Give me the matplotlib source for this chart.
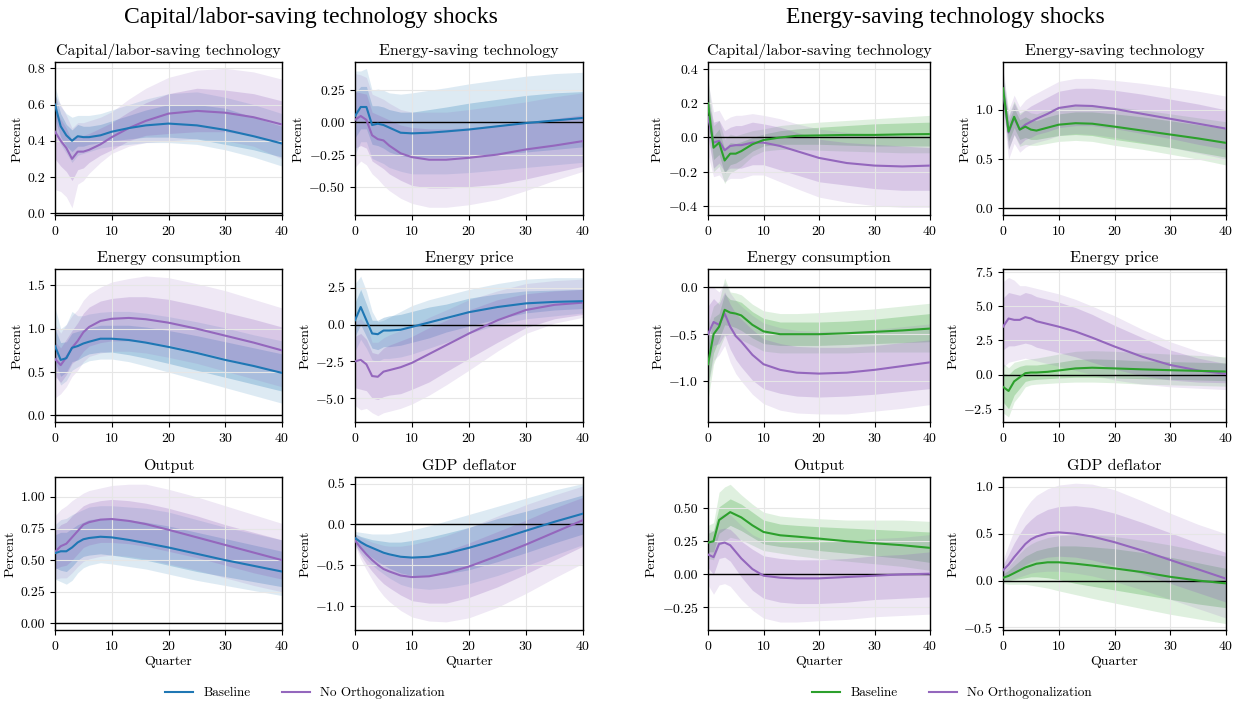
import matplotlib
matplotlib.use("Agg")
import matplotlib.pyplot as plt
from matplotlib.lines import Line2D

plt.rcParams['font.family'] = ['cmr10', 'DejaVu Serif']
plt.rcParams['mathtext.fontset'] = 'cm'
plt.rcParams['axes.formatter.use_mathtext'] = True
plt.rcParams['axes.unicode_minus'] = True

quarters = [0, 1, 2, 3, 4, 5, 6, 8, 10, 13, 16, 20, 25, 30, 35, 40]

# ---- Capital/labor-saving technology shocks (left block) ----
L1_base = dict(
    med=[.60, .48, .43, .40, .425, .42, .42, .43, .45, .47, .485, .495, .485, .46, .425, .385],
    lo68=[.52, .42, .37, .34, .37, .37, .38, .39, .40, .41, .42, .42, .41, .38, .35, .31],
    hi68=[.66, .55, .49, .46, .49, .48, .48, .49, .51, .54, .57, .60, .60, .58, .53, .48],
    lo90=[.45, .38, .33, .28, .32, .33, .34, .36, .37, .38, .39, .39, .38, .35, .31, .26],
    hi90=[.70, .59, .55, .53, .54, .54, .54, .55, .57, .60, .63, .66, .67, .64, .60, .55])
L1_noorth = dict(
    med=[.45, .40, .36, .30, .34, .34, .35, .38, .42, .47, .51, .55, .565, .555, .53, .49],
    lo68=[.30, .26, .23, .18, .24, .25, .28, .32, .35, .40, .43, .44, .45, .45, .43, .38],
    hi68=[.57, .52, .47, .40, .43, .43, .44, .47, .50, .56, .61, .66, .69, .68, .66, .62],
    lo90=[.13, .12, .09, .03, .16, .18, .22, .28, .33, .37, .39, .40, .41, .40, .37, .30],
    hi90=[.65, .60, .54, .47, .50, .50, .51, .53, .56, .63, .69, .75, .79, .80, .78, .74])

L2_base = dict(
    med=[.05, .12, .12, -.02, -.01, -.02, -.04, -.08, -.085, -.08, -.07, -.055, -.03, -.005, .015, .035],
    lo68=[-.12, -.05, -.05, -.17, -.18, -.20, -.23, -.26, -.27, -.27, -.27, -.26, -.25, -.23, -.21, -.19],
    hi68=[.23, .28, .28, .13, .13, .12, .10, .08, .08, .10, .12, .15, .18, .21, .23, .24],
    lo90=[-.25, -.15, -.15, -.28, -.30, -.32, -.35, -.38, -.40, -.40, -.40, -.39, -.37, -.35, -.33, -.31],
    hi90=[.40, .40, .42, .25, .26, .25, .23, .22, .23, .25, .27, .30, .33, .36, .38, .39])
L2_noorth = dict(
    med=[.02, .05, .02, -.10, -.13, -.14, -.18, -.24, -.27, -.29, -.29, -.275, -.25, -.21, -.18, -.145],
    lo68=[-.20, -.18, -.20, -.30, -.33, -.36, -.40, -.45, -.49, -.51, -.51, -.50, -.48, -.44, -.39, -.34],
    hi68=[.24, .23, .22, .08, .06, .04, .02, -.02, -.04, -.05, -.05, -.04, -.02, .00, .03, .06],
    lo90=[-.35, -.30, -.33, -.40, -.44, -.49, -.53, -.59, -.63, -.66, -.66, -.64, -.60, -.53, -.45, -.38],
    hi90=[.38, .37, .35, .22, .20, .18, .15, .10, .08, .08, .08, .10, .13, .16, .20, .23])

L3_base = dict(
    med=[.80, .64, .66, .78, .80, .83, .85, .885, .885, .87, .84, .79, .72, .64, .57, .49],
    lo68=[.62, .45, .50, .62, .64, .68, .71, .73, .73, .70, .66, .60, .52, .44, .36, .28],
    hi68=[1.00, .84, .85, .95, .97, .99, 1.01, 1.04, 1.04, 1.04, 1.02, .98, .92, .85, .78, .71],
    lo90=[.50, .35, .40, .52, .56, .60, .63, .65, .65, .62, .57, .50, .41, .32, .23, .14],
    hi90=[1.25, 1.00, 1.05, 1.20, 1.15, 1.15, 1.17, 1.19, 1.20, 1.20, 1.18, 1.14, 1.08, 1.01, .93, .86])
L3_noorth = dict(
    med=[.65, .58, .67, .78, .86, .96, 1.02, 1.09, 1.115, 1.125, 1.11, 1.07, 1.00, .92, .84, .75],
    lo68=[.45, .38, .47, .60, .65, .74, .80, .84, .86, .86, .85, .81, .74, .66, .58, .49],
    hi68=[.85, .78, .88, .98, 1.07, 1.18, 1.25, 1.32, 1.35, 1.37, 1.37, 1.34, 1.27, 1.19, 1.11, 1.02],
    lo90=[.20, .25, .33, .45, .52, .62, .68, .72, .74, .74, .72, .67, .60, .51, .42, .33],
    hi90=[1.05, .95, 1.05, 1.15, 1.22, 1.33, 1.40, 1.48, 1.54, 1.58, 1.61, 1.59, 1.52, 1.44, 1.34, 1.24])

L4_base = dict(
    med=[.3, 1.2, .3, -.6, -.65, -.4, -.4, -.35, -.15, .15, .45, .85, 1.2, 1.45, 1.55, 1.6],
    lo68=[-.8, 0., -.8, -1.6, -1.7, -1.5, -1.5, -1.4, -1.2, -.9, -.5, -.1, .4, .8, 1.0, 1.1],
    hi68=[1.5, 2.4, 1.4, .3, .3, .5, .6, .7, .9, 1.2, 1.4, 1.8, 2.1, 2.3, 2.35, 2.4],
    lo90=[-1.8, -1.0, -1.6, -2.4, -2.5, -2.3, -2.3, -2.2, -2.0, -1.6, -1.2, -.6, 0., .4, .6, .8],
    hi90=[2.8, 3.3, 2.3, .9, .2, .3, .5, .9, 1.3, 1.7, 2.0, 2.4, 2.8, 3.1, 3.2, 3.2])
L4_noorth = dict(
    med=[-2.5, -2.4, -2.7, -3.5, -3.55, -3.2, -3.1, -2.9, -2.6, -2.0, -1.4, -.6, .3, 1.0, 1.35, 1.5],
    lo68=[-4.3, -4.4, -4.5, -5.0, -5.1, -4.9, -4.8, -4.7, -4.4, -3.9, -3.2, -2.3, -1.2, -.2, .4, .7],
    hi68=[-.8, -.6, -1.0, -1.9, -2.0, -1.6, -1.4, -1.1, -.8, -.2, .3, 1.0, 1.7, 2.1, 2.3, 2.4],
    lo90=[-5.5, -5.8, -5.7, -6.0, -6.2, -6.0, -5.9, -5.7, -5.4, -4.8, -4.1, -3.1, -1.8, -.6, .1, .5],
    hi90=[.2, .4, 0., -1.2, -1.2, -.9, -.7, -.4, -.1, .5, 1.0, 1.7, 2.3, 2.8, 3.0, 3.1])

L5_base = dict(
    med=[.555, .57, .57, .60, .64, .665, .675, .685, .68, .66, .635, .60, .55, .50, .455, .41],
    lo68=[.44, .42, .41, .45, .50, .53, .54, .55, .54, .52, .50, .46, .41, .37, .33, .29],
    hi68=[.70, .72, .72, .75, .78, .80, .82, .83, .83, .82, .80, .77, .72, .67, .62, .57],
    lo90=[.35, .33, .31, .34, .40, .44, .46, .48, .47, .45, .43, .39, .34, .30, .26, .22],
    hi90=[.78, .82, .83, .86, .88, .90, .92, .93, .93, .92, .91, .88, .82, .76, .71, .66])
L5_noorth = dict(
    med=[.565, .61, .63, .68, .73, .78, .80, .82, .825, .81, .785, .74, .68, .62, .56, .50],
    lo68=[.43, .45, .46, .50, .55, .60, .62, .64, .64, .63, .61, .57, .52, .46, .40, .35],
    hi68=[.73, .78, .80, .85, .89, .93, .95, .97, .98, .97, .95, .91, .85, .78, .72, .66],
    lo90=[.35, .36, .36, .40, .45, .49, .51, .53, .54, .53, .51, .47, .42, .36, .30, .25],
    hi90=[.85, .90, .93, .97, 1.00, 1.03, 1.05, 1.07, 1.09, 1.10, 1.10, 1.06, 1.00, .93, .86, .79])

L6_base = dict(
    med=[-.17, -.22, -.26, -.29, -.32, -.35, -.37, -.40, -.41, -.40, -.36, -.29, -.19, -.08, .03, .13],
    lo68=[-.22, -.30, -.36, -.41, -.46, -.50, -.54, -.60, -.63, -.63, -.61, -.56, -.46, -.35, -.23, -.12],
    hi68=[-.12, -.15, -.17, -.19, -.20, -.21, -.22, -.22, -.20, -.16, -.11, -.04, .07, .16, .26, .36],
    lo90=[-.25, -.35, -.43, -.50, -.56, -.61, -.66, -.74, -.78, -.80, -.78, -.73, -.63, -.51, -.38, -.25],
    hi90=[-.09, -.10, -.11, -.12, -.12, -.12, -.12, -.10, -.07, -.02, .04, .12, .22, .32, .42, .50])
L6_noorth = dict(
    med=[-.20, -.29, -.37, -.44, -.50, -.55, -.58, -.63, -.65, -.64, -.60, -.52, -.39, -.25, -.10, .05],
    lo68=[-.25, -.38, -.49, -.58, -.66, -.73, -.78, -.87, -.94, -.97, -.97, -.90, -.77, -.61, -.44, -.27],
    hi68=[-.15, -.20, -.25, -.29, -.33, -.36, -.38, -.41, -.41, -.38, -.33, -.23, -.09, .05, .20, .33],
    lo90=[-.27, -.43, -.56, -.68, -.79, -.88, -.95, -1.06, -1.14, -1.19, -1.20, -1.15, -1.02, -.85, -.66, -.48],
    hi90=[-.12, -.16, -.19, -.22, -.24, -.26, -.27, -.27, -.25, -.20, -.14, -.04, .10, .24, .36, .47])

# ---- Energy-saving technology shocks (right block) ----
R1_base = dict(
    med=[.20, -.06, -.03, -.135, -.095, -.095, -.08, -.04, -.015, 0., .01, .012, .015, .015, .018, .02],
    lo68=[.12, -.13, -.10, -.21, -.16, -.15, -.13, -.08, -.05, -.04, -.04, -.04, -.045, -.05, -.05, -.05],
    hi68=[.28, .01, .05, -.07, -.03, -.035, -.025, 0., .02, .04, .05, .06, .07, .08, .085, .09],
    lo90=[.05, -.20, -.17, -.27, -.21, -.19, -.17, -.11, -.08, -.07, -.07, -.075, -.08, -.085, -.09, -.09],
    hi90=[.35, .07, .10, -.01, .02, .01, .02, .04, .05, .07, .08, .09, .10, .11, .12, .13])
R1_noorth = dict(
    med=[.12, -.03, -.02, -.075, -.05, -.045, -.045, -.03, -.03, -.05, -.08, -.12, -.15, -.165, -.17, -.165],
    lo68=[0., -.18, -.15, -.20, -.18, -.18, -.18, -.16, -.16, -.19, -.22, -.26, -.28, -.30, -.31, -.31],
    hi68=[.22, .09, .10, .04, .06, .07, .07, .09, .08, .06, .03, -.01, -.03, -.04, -.05, -.06],
    lo90=[-.10, -.23, -.22, -.26, -.24, -.24, -.24, -.22, -.22, -.26, -.30, -.35, -.38, -.40, -.41, -.41],
    hi90=[.33, .15, .16, .10, .12, .13, .13, .14, .13, .11, .08, .05, .03, .02, .01, 0.])

R2_base = dict(
    med=[1.22, .78, .93, .80, .83, .80, .79, .82, .85, .865, .86, .83, .79, .75, .71, .665],
    lo68=[1.12, .68, .82, .70, .72, .70, .70, .72, .74, .75, .74, .70, .66, .62, .57, .52],
    hi68=[1.32, .88, 1.02, .90, .93, .90, .89, .93, .96, .98, .98, .96, .93, .89, .85, .81],
    lo90=[1.05, .60, .75, .63, .65, .64, .64, .66, .68, .69, .68, .64, .60, .55, .50, .44],
    hi90=[1.40, .95, 1.09, .97, 1.00, .97, .96, 1.00, 1.03, 1.05, 1.05, 1.03, 1.00, .96, .92, .88])
R2_noorth = dict(
    med=[1.20, .77, .92, .80, .85, .88, .91, .96, 1.02, 1.045, 1.04, 1.01, .96, .91, .86, .81],
    lo68=[1.05, .60, .75, .65, .70, .72, .75, .78, .82, .84, .84, .81, .76, .71, .65, .60],
    hi68=[1.32, .93, 1.07, .95, 1.00, 1.04, 1.07, 1.13, 1.19, 1.22, 1.22, 1.20, 1.16, 1.11, 1.06, 1.00],
    lo90=[.98, .50, .66, .57, .62, .65, .67, .70, .74, .76, .75, .72, .67, .62, .56, .50],
    hi90=[1.42, 1.00, 1.15, 1.03, 1.10, 1.14, 1.17, 1.23, 1.29, 1.32, 1.32, 1.30, 1.27, 1.23, 1.19, 1.14])

R3_base = dict(
    med=[-.82, -.50, -.42, -.24, -.27, -.28, -.30, -.40, -.47, -.50, -.50, -.50, -.49, -.475, -.46, -.44],
    lo68=[-1.05, -.70, -.55, -.40, -.41, -.43, -.46, -.54, -.60, -.62, -.62, -.62, -.61, -.60, -.59, -.58],
    hi68=[-.62, -.32, -.28, -.07, -.13, -.14, -.16, -.26, -.33, -.37, -.37, -.37, -.36, -.34, -.31, -.28],
    lo90=[-1.20, -.82, -.66, -.52, -.50, -.53, -.56, -.62, -.68, -.70, -.70, -.70, -.70, -.69, -.69, -.69],
    hi90=[-.40, -.20, -.15, .10, -.05, -.06, -.08, -.18, -.25, -.28, -.28, -.27, -.25, -.23, -.20, -.17])
R3_noorth = dict(
    med=[-.50, -.37, -.40, -.28, -.42, -.52, -.58, -.72, -.82, -.88, -.91, -.92, -.91, -.88, -.84, -.80],
    lo68=[-.85, -.62, -.60, -.50, -.66, -.77, -.85, -.99, -1.08, -1.13, -1.16, -1.17, -1.16, -1.14, -1.11, -1.08],
    hi68=[-.20, -.12, -.18, -.05, -.18, -.28, -.34, -.45, -.55, -.60, -.63, -.64, -.64, -.62, -.59, -.56],
    lo90=[-1.05, -.78, -.72, -.62, -.80, -.92, -1.00, -1.14, -1.24, -1.31, -1.34, -1.35, -1.35, -1.32, -1.29, -1.25],
    hi90=[0., 0., -.05, .05, -.06, -.14, -.20, -.30, -.38, -.43, -.46, -.47, -.47, -.45, -.42, -.39])

R4_base = dict(
    med=[-.9, -1.2, -.5, -.2, .1, .15, .15, .2, .3, .45, .5, .45, .38, .32, .27, .22],
    lo68=[-2.0, -2.5, -1.5, -1.0, -.5, -.4, -.35, -.3, -.25, -.2, -.2, -.25, -.3, -.35, -.4, -.45],
    hi68=[.1, 0., .4, .6, .7, .7, .7, .8, .9, 1.1, 1.15, 1.1, 1.0, .95, .9, .85],
    lo90=[-2.8, -3.1, -2.0, -1.5, -.9, -.75, -.7, -.65, -.6, -.55, -.55, -.6, -.7, -.75, -.8, -.85],
    hi90=[.8, .5, .9, 1.0, 1.1, 1.15, 1.2, 1.35, 1.5, 1.7, 1.75, 1.7, 1.6, 1.5, 1.4, 1.3])
R4_noorth = dict(
    med=[3.5, 4.1, 4.0, 4.0, 4.2, 4.1, 3.9, 3.7, 3.5, 3.15, 2.7, 2.05, 1.3, .7, .3, .05],
    lo68=[1.8, 2.1, 2.1, 2.2, 2.3, 2.2, 2.0, 1.8, 1.6, 1.3, .9, .4, -.1, -.4, -.55, -.6],
    hi68=[5.6, 6.0, 5.9, 5.8, 6.0, 5.9, 5.7, 5.5, 5.3, 4.9, 4.4, 3.6, 2.7, 1.8, 1.2, .8],
    lo90=[.5, .9, 1.0, 1.1, 1.2, 1.1, 1.0, .8, .6, .3, 0., -.4, -.7, -.9, -1.0, -1.1],
    hi90=[6.8, 7.1, 6.9, 6.5, 6.5, 6.4, 6.3, 6.1, 5.9, 5.5, 5.0, 4.3, 3.3, 2.4, 1.7, 1.2])

R5_base = dict(
    med=[.24, .25, .41, .44, .47, .45, .43, .37, .32, .295, .285, .27, .25, .235, .22, .20],
    lo68=[.17, .17, .31, .34, .37, .35, .33, .28, .23, .21, .20, .18, .16, .14, .12, .09],
    hi68=[.31, .33, .51, .54, .57, .55, .53, .47, .41, .38, .37, .36, .35, .34, .33, .32],
    lo90=[.12, .11, .22, .25, .28, .27, .26, .22, .18, .16, .14, .12, .10, .08, .06, .03],
    hi90=[.37, .39, .62, .66, .68, .64, .60, .53, .47, .44, .43, .42, .41, .41, .41, .40])
R5_noorth = dict(
    med=[.15, .13, .23, .24, .22, .17, .12, .04, -.01, -.025, -.03, -.03, -.02, -.01, 0., .005],
    lo68=[.05, 0., .12, .13, .10, .04, -.02, -.12, -.18, -.21, -.22, -.22, -.21, -.19, -.18, -.17],
    hi68=[.25, .25, .34, .35, .34, .30, .25, .19, .14, .12, .11, .11, .12, .14, .15, .17],
    lo90=[-.08, -.15, -.08, -.07, -.09, -.14, -.19, -.27, -.33, -.36, -.36, -.35, -.34, -.32, -.31, -.30],
    hi90=[.34, .33, .44, .46, .45, .41, .37, .30, .26, .24, .24, .24, .25, .27, .28, .30])

R6_base = dict(
    med=[.03, .05, .08, .11, .14, .16, .18, .195, .195, .18, .16, .13, .09, .04, 0., -.03],
    lo68=[0., 0., .01, .02, .03, .04, .04, .03, .01, -.03, -.06, -.10, -.15, -.20, -.25, -.29],
    hi68=[.07, .11, .16, .21, .26, .29, .32, .35, .37, .37, .36, .34, .30, .25, .19, .13],
    lo90=[-.03, -.04, -.04, -.04, -.04, -.05, -.06, -.08, -.11, -.15, -.19, -.24, -.30, -.36, -.41, -.46],
    hi90=[.10, .15, .22, .29, .35, .39, .42, .46, .48, .49, .49, .47, .43, .38, .32, .26])
R6_noorth = dict(
    med=[.11, .17, .25, .32, .39, .44, .47, .505, .515, .50, .47, .41, .32, .22, .12, .02],
    lo68=[.05, .07, .10, .13, .17, .20, .22, .25, .26, .25, .22, .16, .07, -.03, -.13, -.23],
    hi68=[.17, .28, .40, .50, .59, .65, .70, .76, .79, .80, .78, .72, .62, .51, .40, .30],
    lo90=[0., 0., .02, .04, .06, .08, .09, .10, .10, .08, .05, -.01, -.10, -.20, -.30, -.40],
    hi90=[.22, .38, .54, .67, .77, .85, .91, .98, 1.02, 1.04, 1.03, .97, .85, .72, .60, .50])

panel_titles = ["Capital/labor-saving technology", "Energy-saving technology",
                "Energy consumption", "Energy price", "Output", "GDP deflator"]
block_titles = ["Capital/labor-saving technology shocks", "Energy-saving technology shocks"]
series_labels = ["Baseline", "No Orthogonalization"]

left_panels = [(L1_base, L1_noorth), (L2_base, L2_noorth), (L3_base, L3_noorth),
               (L4_base, L4_noorth), (L5_base, L5_noorth), (L6_base, L6_noorth)]
right_panels = [(R1_base, R1_noorth), (R2_base, R2_noorth), (R3_base, R3_noorth),
                (R4_base, R4_noorth), (R5_base, R5_noorth), (R6_base, R6_noorth)]

left_ylims = [(-0.01, 0.835), (-0.72, 0.47), (-0.077, 1.69), (-6.63, 3.79), (-0.052, 1.157), (-1.30, 0.58)]
right_ylims = [(-0.455, 0.443), (-0.068, 1.487), (-1.436, 0.195), (-3.47, 7.72), (-0.42, 0.735), (-0.528, 1.106)]
left_yticks = [[0, .2, .4, .6, .8], [-.5, -.25, 0, .25], [0, .5, 1, 1.5], [-5, -2.5, 0, 2.5],
               [0, .25, .5, .75, 1], [-1, -.5, 0, .5]]
right_yticks = [[-.4, -.2, 0, .2, .4], [0, .5, 1], [-1, -.5, 0], [-2.5, 0, 2.5, 5, 7.5],
                [-.25, 0, .25, .5], [-.5, 0, .5, 1]]
left_yfmt = ["%.1f", "%.2f", "%.1f", "%.1f", "%.2f", "%.1f"]
right_yfmt = ["%.1f", "%.1f", "%.1f", "%.1f", "%.2f", "%.1f"]

purple = "#9467bd"
W, H = 1242, 706
fig = plt.figure(figsize=(W / 100, H / 100), dpi=100)

col_x = [[55, 355], [708, 1003]]
col_w = [[227, 228], [222, 223]]
row_top = [62, 269, 477]
row_h = 153


def fmt_tick(v, f):
    s = f % abs(v)
    return ("$-$" + s) if v < 0 else s


def draw_block(b, panels, ylims, yticks, yfmts, base_color):
    for k, (base, noorth) in enumerate(panels):
        r, c = divmod(k, 2)
        x0 = col_x[b][c]
        ax = fig.add_axes([x0 / W, 1 - (row_top[r] + row_h) / H, col_w[b][c] / W, row_h / H])
        ax.grid(True, color="#e6e6e6", lw=0.8, zorder=0)
        for d, col in ((base, base_color), (noorth, purple)):
            ax.fill_between(quarters, d["lo90"], d["hi90"], color=col, alpha=0.15, lw=0, zorder=1)
            ax.fill_between(quarters, d["lo68"], d["hi68"], color=col, alpha=0.25, lw=0, zorder=1)
        ax.axhline(0, color="black", lw=1.0, zorder=2)
        ax.plot(quarters, noorth["med"], color=purple, lw=1.5, zorder=3)
        ax.plot(quarters, base["med"], color=base_color, lw=1.5, zorder=4)
        ax.set_xlim(0, 40)
        ax.set_xticks([0, 10, 20, 30, 40])
        ax.set_ylim(*ylims[k])
        ax.set_yticks(yticks[k])
        ax.set_yticklabels([fmt_tick(v, yfmts[k]) for v in yticks[k]])
        ax.tick_params(labelsize=10, length=3.5, width=0.8)
        for sp in ax.spines.values():
            sp.set_linewidth(1.0)
        ax.set_title(panel_titles[k], fontsize=11.5, pad=5)
        ax.set_ylabel("Percent", fontsize=10, labelpad=3)
        if r == 2:
            ax.set_xlabel("Quarter", fontsize=10, labelpad=2)


draw_block(0, left_panels, left_ylims, left_yticks, left_yfmt, "#1f77b4")
draw_block(1, right_panels, right_ylims, right_yticks, right_yfmt, "#2ca02c")

fig.text(311 / W, 1 - 18 / H, block_titles[0], ha="center", va="center",
         fontsize=17, family="Liberation Serif")
fig.text(945 / W, 1 - 18 / H, block_titles[1], ha="center", va="center",
         fontsize=17, family="Liberation Serif")

for cx, col in ((305, "#1f77b4"), (952, "#2ca02c")):
    handles = [Line2D([], [], color=col, lw=1.5), Line2D([], [], color=purple, lw=1.5)]
    fig.legend(handles, series_labels, loc="center", bbox_to_anchor=(cx / W, 1 - 693 / H),
               ncol=2, frameon=False, fontsize=9.5, handlelength=2.1, handletextpad=0.8,
               columnspacing=2.4)

fig.savefig("out.png", dpi=100)
